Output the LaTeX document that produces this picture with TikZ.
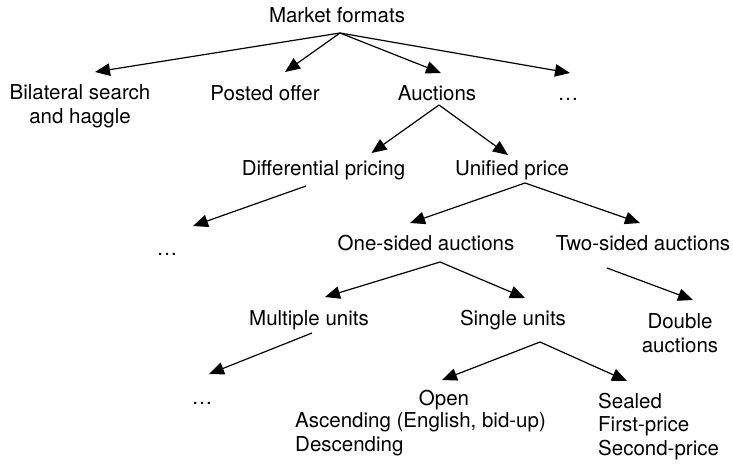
\documentclass[tikz,border=0pt]{standalone}
\usepackage{fontspec}
\setmainfont{TeX Gyre Heros}
\usetikzlibrary{arrows.meta,calc}
\begin{document}
\begin{tikzpicture}[x=1pt,y=-1pt,
  lbl/.style={font=\fontsize{20.5}{23.5}\selectfont, inner sep=0pt, anchor=base},
  lbllist/.style={lbl, anchor=base west, align=left},
  arr/.style={line width=1.2pt, -{Triangle[length=15pt,width=12.5pt]}}]
\useasboundingbox (0,0) rectangle (733,463);

% tree labels (positions are baselines; multi-line labels use their last line)
\node[lbl] (mf) at (337,23) {Market formats};
\node[lbl, align=center] (bil) at (80,123) {Bilateral search\\and haggle};
\node[lbl] (posted) at (265,100) {Posted offer};
\node[lbl] (auc) at (437,100) {Auctions};
\node[lbl] (dotsA) at (568,100) {\dots};
\node[lbl] (diff) at (323.5,175) {Differential pricing};
\node[lbl] (uni) at (512,175) {Unified price};
\node[lbl] (dotsB) at (167,255) {\dots};
\node[lbl] (one) at (426,250) {One-sided auctions};
\node[lbl] (two) at (643,250) {Two-sided auctions};
\node[lbl] (mult) at (309,325) {Multiple units};
\node[lbl] (single) at (513,325) {Single units};
\node[lbl, align=center] (double) at (680,352) {Double\\auctions};
\node[lbl] (dotsC) at (202,404) {\dots};
\node[lbl] (open) at (444,405) {Open};
\node[lbllist] (openlist) at (295,451) {Ascending (English, bid-up)\\Descending};
\node[lbllist] (sealed) at (598,455) {Sealed\\First-price\\Second-price};

% connectors
\draw[arr] ($(mf.base)+(3,10)$) -- ($(bil.base)+(15,-51)$);
\draw[arr] ($(mf.base)+(3,10)$) -- ($(posted.base)+(20,-28)$);
\draw[arr] ($(mf.base)+(3,10)$) -- ($(auc.base)+(4,-27)$);
\draw[arr] ($(mf.base)+(3,10)$) -- ($(dotsA.base)+(2,-27)$);

\draw[arr] ($(auc.base)+(2,5)$) -- ($(diff.base)+(48,-22)$);
\draw[arr] ($(auc.base)+(2,5)$) -- ($(uni.base)+(-4,-20)$);

\draw[arr] ($(diff.base)+(-17.5,11)$) -- ($(dotsB.base)+(26,-29)$);
\draw[arr] ($(uni.base)+(13,8)$) -- ($(one.base)+(-16,-27)$);
\draw[arr] ($(uni.base)+(13,8)$) -- ($(two.base)+(-3,-27)$);

\draw[arr] ($(one.base)+(14,12)$) -- ($(mult.base)+(16,-28)$);
\draw[arr] ($(one.base)+(14,12)$) -- ($(single.base)+(12,-27)$);
\draw[arr] ($(two.base)+(-36,18)$) -- ($(double.base)+(13,-52)$);

\draw[arr] ($(mult.base)+(3,8)$) -- ($(dotsC.base)+(7,-30)$);
\draw[arr] ($(single.base)+(27,17)$) -- ($(open.base)+(-2,-25)$);
\draw[arr] ($(single.base)+(27,17)$) -- ($(sealed.base west)+(29,-74)$);
\end{tikzpicture}
\end{document}
